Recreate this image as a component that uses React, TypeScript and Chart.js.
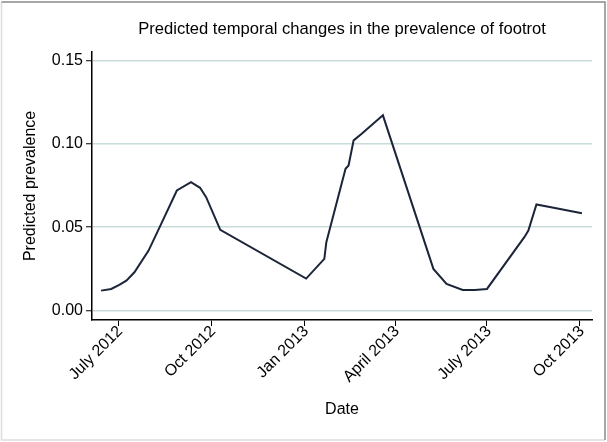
import { useEffect, useRef } from 'react';
import { Chart, registerables } from 'chart.js';

Chart.register(...registerables);

// Days since 1 July 2012
const days = [-17, -7, 1, 8, 16, 30, 41, 58, 72, 81, 87, 101, 186, 204, 206, 225, 228, 233, 241, 262, 312, 325, 341, 353, 365, 402, 406, 414, 431, 459];
const prevalence = [0.012, 0.013, 0.0155, 0.018, 0.023, 0.036, 0.050, 0.072, 0.077, 0.0736, 0.068, 0.0484, 0.0192, 0.031, 0.041, 0.085, 0.087, 0.102, 0.106, 0.117, 0.025, 0.016, 0.0124, 0.0124, 0.013, 0.044, 0.048, 0.0636, 0.0616, 0.0584];

const tickDays = [0, 92, 184, 274, 365, 457];
const tickLabels = ['July 2012', 'Oct 2012', 'Jan 2013', 'April 2013', 'July 2013', 'Oct 2013'];
const yTicks = [0, 0.05, 0.1, 0.15];
const yTickLabels = ['0.00', '0.05', '0.10', '0.15'];

const titleText = 'Predicted temporal changes in the prevalence of footrot';
const xTitle = 'Date';
const yTitle = 'Predicted prevalence';

const FONT = '"Liberation Sans", Arial, Helvetica, sans-serif';

const framePlugin = {
  id: 'frame',
  beforeDraw(chart: any) {
    const ctx = chart.ctx;
    ctx.save();
    ctx.fillStyle = '#ffffff';
    ctx.fillRect(0, 0, chart.width, chart.height);
    ctx.lineWidth = 1.5;
    ctx.strokeStyle = '#dcdcdc';
    ctx.beginPath();
    ctx.moveTo(1.5, 2);
    ctx.lineTo(1.5, 440);
    ctx.lineTo(605, 440);
    ctx.stroke();
    ctx.strokeStyle = '#8a8a8a';
    ctx.beginPath();
    ctx.moveTo(1.5, 2);
    ctx.lineTo(605, 2);
    ctx.lineTo(605, 440);
    ctx.stroke();
    ctx.restore();
  },
};

export default function App() {
  const ref = useRef<HTMLCanvasElement | null>(null);

  useEffect(() => {
    document.body.style.margin = '0';
    const canvas = ref.current;
    if (!canvas) return;
    Chart.defaults.font.family = FONT;
    const chart = new Chart(canvas, {
      type: 'line',
      data: {
        datasets: [
          {
            data: days.map((d, i) => ({ x: d, y: prevalence[i] })),
            borderColor: '#1b2438',
            borderWidth: 2,
            pointRadius: 0,
            tension: 0,
            fill: false,
          },
        ],
      },
      options: {
        animation: false,
        responsive: false,
        maintainAspectRatio: false,
        layout: { padding: { left: 0, right: 15, top: 0, bottom: 20 } },
        plugins: {
          legend: { display: false },
          tooltip: { enabled: false },
          title: {
            display: true,
            text: titleText,
            fullSize: false,
            color: '#000',
            font: { size: 16.6, weight: 'normal', family: FONT },
            padding: { top: 19, bottom: 13 },
          },
        },
        scales: {
          x: {
            type: 'linear',
            min: -26,
            max: 469,
            afterBuildTicks: (scale: any) => {
              scale.ticks = tickDays.map((v) => ({ value: v }));
            },
            afterFit: (scale: any) => {
              scale.height = 102;
            },
            ticks: {
              autoSkip: false,
              minRotation: 45,
              maxRotation: 45,
              color: '#000',
              padding: -4,
              labelOffset: 2,
              font: { size: 16, family: FONT },
              callback: (_v: any, i: number) => tickLabels[i],
            },
            grid: {
              drawOnChartArea: false,
              drawTicks: true,
              tickLength: 6,
              tickColor: '#000',
              tickWidth: 1,
            },
            border: { display: true, color: '#000', width: 1.5 },
            title: {
              display: true,
              text: xTitle,
              color: '#000',
              font: { size: 16, family: FONT },
              padding: { top: 0, bottom: 3 },
            },
          },
          y: {
            type: 'linear',
            min: -0.0056,
            max: 0.155,
            afterBuildTicks: (scale: any) => {
              scale.ticks = yTicks.map((v) => ({ value: v }));
            },
            afterFit: (scale: any) => {
              scale.width = 92;
            },
            ticks: {
              color: '#000',
              padding: 3,
              font: { size: 16, family: FONT },
              callback: (_v: any, i: number) => yTickLabels[i],
            },
            grid: {
              drawOnChartArea: true,
              color: '#c8dcdc',
              lineWidth: 1.5,
              drawTicks: true,
              tickLength: 6,
              tickColor: '#000',
              tickWidth: 1,
            },
            border: { display: true, color: '#000', width: 1.5 },
            title: {
              display: true,
              text: yTitle,
              color: '#000',
              font: { size: 16, family: FONT },
              padding: { top: 21, bottom: 0 },
            },
          },
        },
      },
      plugins: [framePlugin],
    } as any);
    return () => chart.destroy();
  }, []);

  return (
    <div style={{ width: 607, height: 442 }}>
      <canvas ref={ref} width={607} height={442} style={{ display: 'block', width: 607, height: 442 }} />
    </div>
  );
}
